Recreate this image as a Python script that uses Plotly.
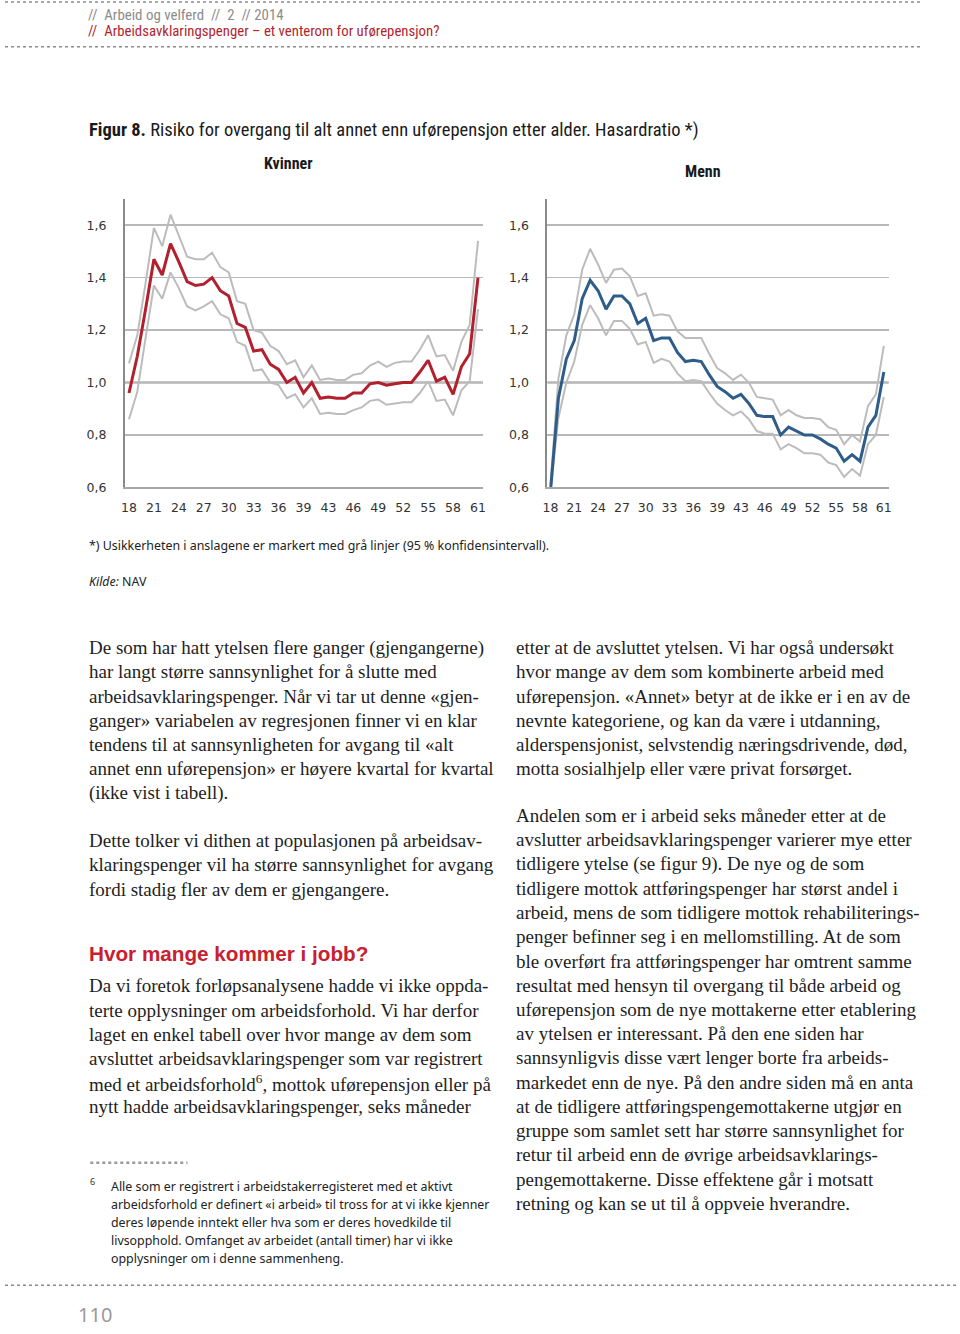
import plotly.graph_objects as go

W, H = 960, 1334

# ---------------- data ----------------
ages = [str(a) for a in list(range(18, 41)) + list(range(42, 62))]
tick_ages = ages[::3]

kvinner_hr = [0.96, 1.10, 1.28, 1.47, 1.41, 1.53, 1.46, 1.385, 1.37, 1.375, 1.40,
              1.35, 1.33, 1.225, 1.21, 1.12, 1.125, 1.07, 1.05, 1.00, 1.02, 0.96,
              1.00, 0.94, 0.945, 0.94, 0.94, 0.96, 0.96, 0.995, 1.00, 0.99, 0.995,
              1.00, 1.00, 1.04, 1.085, 1.005, 1.02, 0.955, 1.06, 1.11, 1.40]
kvinner_hi = [1.073, 1.18, 1.38, 1.59, 1.52, 1.64, 1.56, 1.48, 1.47, 1.47, 1.495,
              1.44, 1.42, 1.31, 1.30, 1.20, 1.19, 1.14, 1.12, 1.07, 1.085, 1.02,
              1.065, 1.01, 1.015, 1.01, 1.01, 1.03, 1.035, 1.065, 1.08, 1.06, 1.075,
              1.08, 1.08, 1.125, 1.18, 1.10, 1.105, 1.045, 1.155, 1.22, 1.54]
kvinner_lo = [0.86, 0.965, 1.17, 1.37, 1.32, 1.42, 1.36, 1.29, 1.275, 1.29, 1.31,
              1.26, 1.245, 1.155, 1.14, 1.045, 1.05, 1.00, 0.99, 0.94, 0.955, 0.905,
              0.94, 0.88, 0.885, 0.88, 0.88, 0.895, 0.905, 0.93, 0.935, 0.915, 0.92,
              0.925, 0.925, 0.96, 1.005, 0.93, 0.935, 0.875, 0.97, 1.005, 1.28]

menn_hr = [0.585, 0.94, 1.09, 1.16, 1.32, 1.39, 1.35, 1.28, 1.33, 1.33, 1.30,
           1.225, 1.245, 1.16, 1.17, 1.17, 1.115, 1.08, 1.085, 1.08, 1.03, 0.985,
           0.965, 0.94, 0.955, 0.92, 0.875, 0.87, 0.87, 0.80, 0.83, 0.815, 0.80,
           0.80, 0.785, 0.765, 0.75, 0.70, 0.725, 0.70, 0.83, 0.875, 1.04]
menn_hi = [0.61, 1.015, 1.18, 1.26, 1.43, 1.51, 1.45, 1.38, 1.43, 1.435, 1.405,
           1.33, 1.34, 1.255, 1.26, 1.255, 1.195, 1.17, 1.17, 1.17, 1.11, 1.055,
           1.035, 1.01, 1.03, 1.00, 0.945, 0.94, 0.935, 0.875, 0.895, 0.875, 0.865,
           0.865, 0.86, 0.83, 0.82, 0.765, 0.80, 0.775, 0.91, 0.955, 1.14]
menn_lo = [0.585, 0.865, 1.00, 1.08, 1.22, 1.295, 1.245, 1.18, 1.235, 1.235, 1.205,
           1.145, 1.155, 1.075, 1.09, 1.08, 1.035, 1.005, 1.01, 1.005, 0.96, 0.92,
           0.895, 0.875, 0.89, 0.86, 0.815, 0.805, 0.805, 0.745, 0.765, 0.75, 0.73,
           0.73, 0.725, 0.695, 0.685, 0.64, 0.67, 0.645, 0.765, 0.80, 0.945]

y_ticks = [0.6, 0.8, 1.0, 1.2, 1.4, 1.6]

# ---------------- helpers ----------------
def px(x):
    return x / W

def py(y):
    return 1 - y / H

RED = "#b21f2d"
BLUE = "#2f5d8a"
CI = "#bcbcbc"
GRID = "#b8b8b8"

fig = go.Figure()

panels = [
    ("x", "y", kvinner_hr, kvinner_lo, kvinner_hi, RED),
    ("x2", "y2", menn_hr, menn_lo, menn_hi, BLUE),
]
for xa, ya, hr, lo, hi, col in panels:
    for ci in (hi, lo):
        fig.add_trace(go.Scatter(x=ages, y=ci, mode="lines", xaxis=xa, yaxis=ya,
                                 line=dict(color=CI, width=2), hoverinfo="skip",
                                 showlegend=False))
    fig.add_trace(go.Scatter(x=ages, y=hr, mode="lines", xaxis=xa, yaxis=ya,
                             line=dict(color=col, width=3), showlegend=False))

tickfont = dict(family="DejaVu Sans, Verdana, sans-serif", size=12.5, color="#333333")

def xaxis_cfg(domain, rng, anchor):
    return dict(domain=domain, type="category", range=rng, anchor=anchor,
                tickmode="array", tickvals=tick_ages, ticktext=tick_ages,
                showgrid=False, showline=True, linecolor="#a8a8a8", linewidth=1.5,
                ticks="outside", ticklen=8, tickcolor="rgba(0,0,0,0)",
                tickfont=tickfont, zeroline=False, fixedrange=True)

def yaxis_cfg(anchor):
    return dict(domain=[py(490), py(200)], range=[0.6, 1.7], anchor=anchor,
                tickmode="array", tickvals=y_ticks, tickformat=".1f",
                showgrid=True, gridcolor=GRID, gridwidth=1.5,
                showline=True, linecolor="#8a8a8a", linewidth=2,
                ticks="outside", ticklen=14, tickcolor="rgba(0,0,0,0)",
                tickfont=tickfont, zeroline=False, fixedrange=True)

fig.update_layout(
    width=W, height=H,
    margin=dict(l=0, r=0, t=0, b=0),
    paper_bgcolor="white", plot_bgcolor="white",
    separators=", ",
    xaxis=xaxis_cfg([px(121), px(482)], [-0.48, 42.6], "y"),
    yaxis=yaxis_cfg("x"),
    xaxis2=xaxis_cfg([px(547), px(891)], [-0.38, 42.6], "y2"),
    yaxis2=yaxis_cfg("x2"),
)

shapes = []
# darker reference line at 1.0
for xr, yr in (("x domain", "y"), ("x2 domain", "y2")):
    shapes.append(dict(type="line", xref=xr, yref=yr, x0=0, x1=1, y0=1.0, y1=1.0,
                       line=dict(color="#8f8f8f", width=2), layer="below"))

# dotted page rules
def dotted(x0, x1, y, color="#8a8a8a", width=1.5):
    shapes.append(dict(type="line", xref="paper", yref="paper",
                       x0=px(x0), x1=px(x1), y0=py(y), y1=py(y),
                       line=dict(color=color, width=width, dash="dot")))

dotted(0, 925, 2)
dotted(0, 925, 47)
dotted(86, 184, 1169, color="#9a9a9a", width=2.5)
dotted(0, 960, 1292)
fig.update_layout(shapes=shapes)

ann = []

def text(x, y, s, size, color="#222222", family="Liberation Serif, Times New Roman, serif",
         xanchor="left"):
    ann.append(dict(x=px(x), y=py(y), xref="paper", yref="paper", text=s,
                    showarrow=False, xanchor=xanchor, yanchor="middle",
                    borderpad=0, borderwidth=0,
                    font=dict(size=size, color=color, family=family), align="left"))

COND = "Liberation Sans Narrow, Roboto Condensed, Roboto, sans-serif"
SANS = "Noto Sans, Open Sans, sans-serif"

# header
text(84, 15, "//  Arbeid og velferd  //  2  // 2014", 14.9, color="#8c8c8c", family=COND)
text(84, 31, "//  Arbeidsavklaringspenger – et venterom for uførepensjon?", 14.8,
     color="#b21f2d", family=COND)

# figure title
text(85, 131, "<b>Figur 8.</b> Risiko for overgang til alt annet enn uførepensjon etter alder. Hasardratio *)",
     18.5, color="#1a1a1a", family=COND)
text(285, 164, "<b>Kvinner</b>", 16, color="#1a1a1a", family=COND, xanchor="center")
text(704, 172, "<b>Menn</b>", 16, color="#1a1a1a", family=COND, xanchor="center")

# notes
text(85, 548, "*) Usikkerheten i anslagene er markert med grå linjer (95 % konfidensintervall).",
     12.4, color="#222222", family=SANS)
text(85, 585, "<i>Kilde:</i> NAV", 12.4, color="#222222", family=SANS)

LH = 24.35
left_blocks = [
    (651, [
        "De som har hatt ytelsen flere ganger (gjengangerne)",
        "har langt større sannsynlighet for å slutte med",
        "arbeidsavklaringspenger. Når vi tar ut denne «gjen-",
        "ganger» variabelen av regresjonen finner vi en klar",
        "tendens til at sannsynligheten for avgang til «alt",
        "annet enn uførepensjon» er høyere kvartal for kvartal",
        "(ikke vist i tabell).",
    ]),
    (845, [
        "Dette tolker vi dithen at populasjonen på arbeidsav-",
        "klaringspenger vil ha større sannsynlighet for avgang",
        "fordi stadig fler av dem er gjengangere.",
    ]),
    (991, [
        "Da vi foretok forløpsanalysene hadde vi ikke oppda-",
        "terte opplysninger om arbeidsforhold. Vi har derfor",
        "laget en enkel tabell over hvor mange av dem som",
        "avsluttet arbeidsavklaringspenger som var registrert",
        "med et arbeidsforhold<sup>6</sup>, mottok uførepensjon eller på",
        "nytt hadde arbeidsavklaringspenger, seks måneder",
    ]),
]
right_blocks = [
    (651, [
        "etter at de avsluttet ytelsen. Vi har også undersøkt",
        "hvor mange av dem som kombinerte arbeid med",
        "uførepensjon. «Annet» betyr at de ikke er i en av de",
        "nevnte kategoriene, og kan da være i utdanning,",
        "alderspensjonist, selvstendig næringsdrivende, død,",
        "motta sosialhjelp eller være privat forsørget.",
    ]),
    (820, [
        "Andelen som er i arbeid seks måneder etter at de",
        "avslutter arbeidsavklaringspenger varierer mye etter",
        "tidligere ytelse (se figur 9). De nye og de som",
        "tidligere mottok attføringspenger har størst andel i",
        "arbeid, mens de som tidligere mottok rehabiliterings-",
        "penger befinner seg i en mellomstilling. At de som",
        "ble overført fra attføringspenger har omtrent samme",
        "resultat med hensyn til overgang til både arbeid og",
        "uførepensjon som de nye mottakerne etter etablering",
        "av ytelsen er interessant. På den ene siden har",
        "sannsynligvis disse vært lenger borte fra arbeids-",
        "markedet enn de nye. På den andre siden må en anta",
        "at de tidligere attføringspengemottakerne utgjør en",
        "gruppe som samlet sett har større sannsynlighet for",
        "retur til arbeid enn de øvrige arbeidsavklarings-",
        "pengemottakerne. Disse effektene går i motsatt",
        "retning og kan se ut til å oppveie hverandre.",
    ]),
]
BODY = 19.0
for x0, blocks in ((85, left_blocks), (515, right_blocks)):
    for y0, lines in blocks:
        for i, s in enumerate(lines):
            text(x0, y0 + i * LH, s, BODY, color="#1e1e1e")

text(85, 959, "<b>Hvor mange kommer i jobb?</b>", 20.7, color="#c8202f",
     family="Liberation Sans, Arial, sans-serif")

# footnote
text(86, 1188, "6", 9, color="#333333", family=SANS)
foot = [
    "Alle som er registrert i arbeidstakerregisteret med et aktivt",
    "arbeidsforhold er definert «i arbeid» til tross for at vi ikke kjenner",
    "deres løpende inntekt eller hva som er deres hovedkilde til",
    "livsopphold. Omfanget av arbeidet (antall timer) har vi ikke",
    "opplysninger om i denne sammenheng.",
]
for i, s in enumerate(foot):
    text(107, 1193 + i * 18, s, 12.4, color="#222222", family=SANS)

# page number
text(74, 1321, "110", 20, color="#9a9a9a", family=SANS)

fig.update_layout(annotations=ann)
fig.write_html("out.html",
               config={"displayModeBar": False, "staticPlot": True},
               post_script="document.body.style.margin='0';"
                           "document.body.style.overflow='hidden';"
                           "document.documentElement.style.overflow='hidden';")
